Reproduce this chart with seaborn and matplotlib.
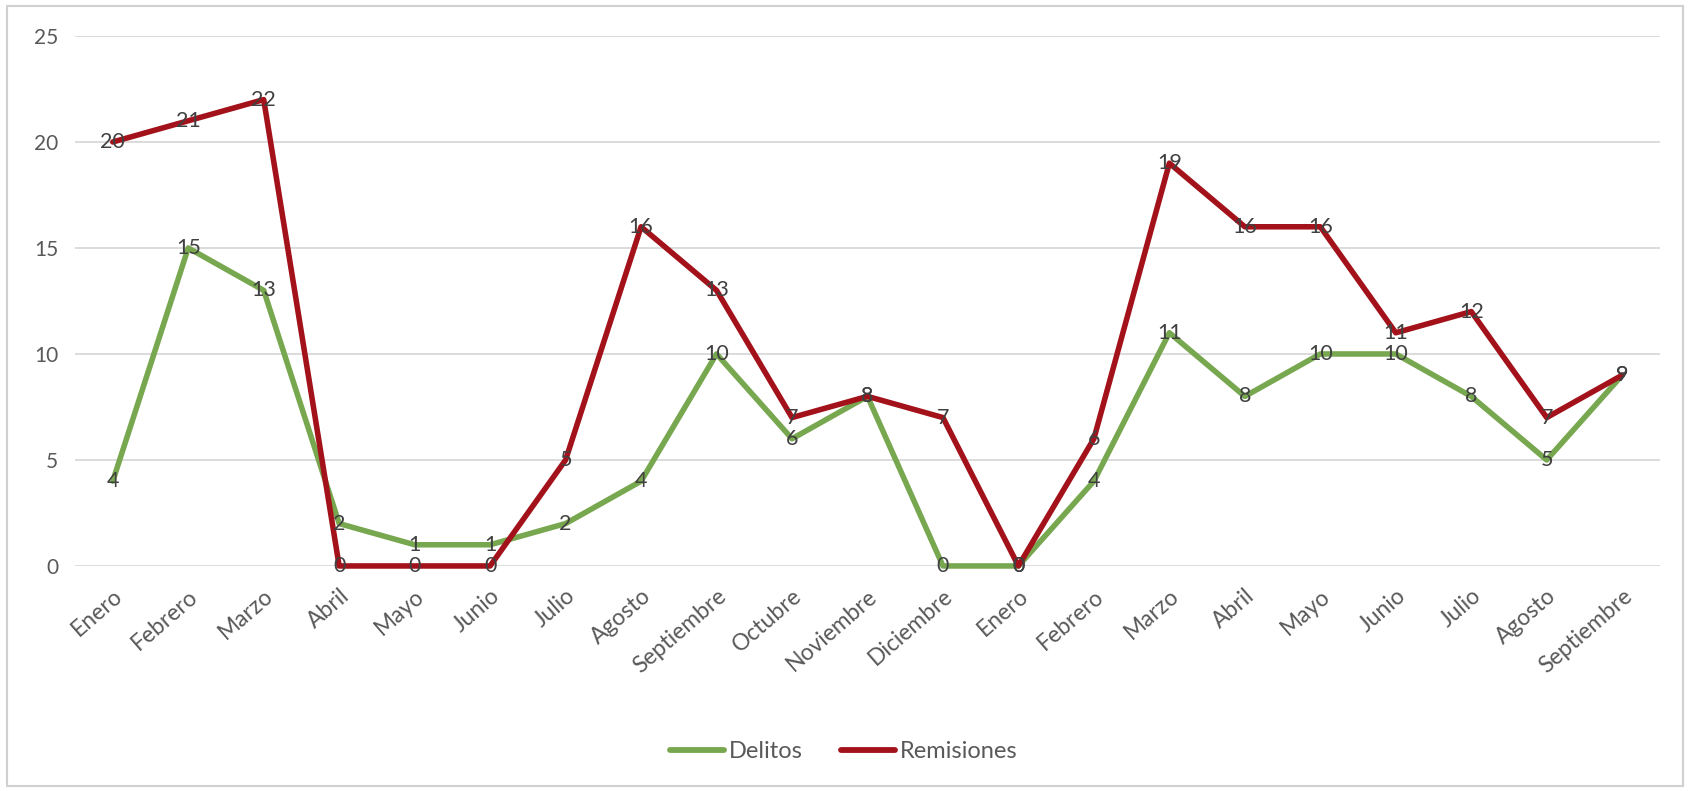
import matplotlib
matplotlib.use("Agg")
import matplotlib.pyplot as plt
import seaborn as sns
import pandas as pd
from matplotlib.patches import Rectangle

months = ["Enero", "Febrero", "Marzo", "Abril", "Mayo", "Junio", "Julio", "Agosto",
          "Septiembre", "Octubre", "Noviembre", "Diciembre", "Enero", "Febrero", "Marzo",
          "Abril", "Mayo", "Junio", "Julio", "Agosto", "Septiembre"]
delitos = [4, 15, 13, 2, 1, 1, 2, 4, 10, 6, 8, 0, 0, 4, 11, 8, 10, 10, 8, 5, 9]
remisiones = [20, 21, 22, 0, 0, 0, 5, 16, 13, 7, 8, 7, 0, 6, 19, 16, 16, 11, 12, 7, 9]
series_names = ["Delitos", "Remisiones"]
yticks = [0, 5, 10, 15, 20, 25]

sns.set_theme(style="white")
plt.rcParams['font.family'] = ['Lato', 'DejaVu Sans']

idx = list(range(len(months)))
df = pd.DataFrame({
    "x": idx * 2,
    "value": delitos + remisiones,
    "serie": [series_names[0]] * len(idx) + [series_names[1]] * len(idx),
})
palette = {"Delitos": "#77A74F", "Remisiones": "#A3121A"}

fig = plt.figure(figsize=(16.9, 7.91), dpi=100)
ax = fig.add_axes([0.0444, 0.2845, 0.9378, 0.67])

sns.lineplot(data=df, x="x", y="value", hue="serie", palette=palette,
             linewidth=4.0, ax=ax, legend=True)
for line in ax.get_lines():
    line.set_clip_on(False)
    line.set_solid_capstyle("round")
    line.set_solid_joinstyle("round")

for x, v in zip(idx, delitos):
    ax.text(x, v, str(v), ha="center", va="center", fontsize=15.5, color="#404040", zorder=5)
for x, v in zip(idx, remisiones):
    ax.text(x, v, str(v), ha="center", va="center", fontsize=15.5, color="#404040", zorder=5)

ax.set_xlim(-0.5, len(months) - 0.5)
ax.set_ylim(0, 25)
ax.set_yticks(yticks)
ax.set_yticklabels([str(t) for t in yticks], fontsize=15, color="#595959")
ax.set_xticks(idx)
ax.set_xticklabels(months, rotation=41, ha="right", rotation_mode="anchor",
                   fontsize=16.5, color="#595959")
ax.tick_params(axis="x", length=0, pad=14)
ax.tick_params(axis="y", length=0, pad=12)
ax.grid(axis="y", color="#D9D9D9", linewidth=1.3)
ax.set_axisbelow(True)
for s in ax.spines.values():
    s.set_visible(False)
ax.set_xlabel("")
ax.set_ylabel("")

leg = ax.legend(loc="center", bbox_to_anchor=(0.485, -0.351),
                ncol=2, frameon=False, fontsize=17, handlelength=2.3, columnspacing=1.6,
                handletextpad=0.2)
for t in leg.get_texts():
    t.set_color("#595959")
for l in leg.get_lines():
    l.set_linewidth(4.2)

fig.patches.append(Rectangle((0.004, 0.006), 0.992, 0.986, transform=fig.transFigure,
                             fill=False, edgecolor="#D0D0D0", linewidth=1.5))

fig.savefig("out.png", dpi=100, facecolor="white")
